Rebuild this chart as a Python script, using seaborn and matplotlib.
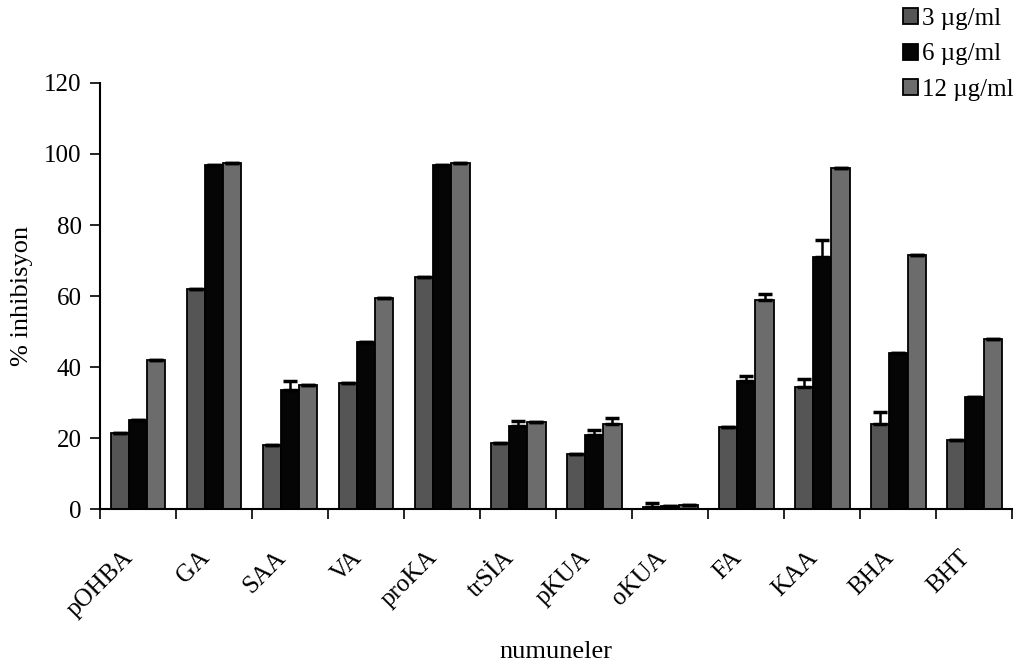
import numpy as np
import pandas as pd
import matplotlib
matplotlib.use("Agg")
import matplotlib.pyplot as plt
import seaborn as sns

# Veriler
numuneler = ["pOHBA", "GA", "SAA", "VA", "proKA", "trSİA",
             "pKUA", "oKUA", "FA", "KAA", "BHA", "BHT"]
dozlar = ["3 µg/ml", "6 µg/ml", "12 µg/ml"]

inh_3 = [21.5, 62, 18, 35.5, 65.5, 18.5, 15.5, 0.5, 23, 34.5, 24, 19.5]
inh_6 = [25, 97, 33.5, 47, 97, 23.5, 21, 0.8, 36, 71, 44, 31.5]
inh_12 = [42, 97.5, 35, 59.5, 97.5, 24.5, 24, 1.2, 59, 96, 71.5, 48]

hata_3 = [0, 0, 0, 0, 0, 0, 0, 1.2, 0, 2.0, 3.3, 0]
hata_6 = [0, 0, 2.7, 0, 0, 1.2, 1.2, 0, 1.5, 4.8, 0, 0]
hata_12 = [0, 0, 0, 0, 0, 0, 1.7, 0, 1.5, 0, 0, 0]

df = pd.DataFrame({
    "numune": numuneler * 3,
    "doz": [d for d in dozlar for _ in numuneler],
    "inhibisyon": inh_3 + inh_6 + inh_12,
})
hatalar = [hata_3, hata_6, hata_12]

sns.set_style("white")
plt.rcParams["font.family"] = ["Liberation Serif", "DejaVu Serif"]
plt.rcParams["text.color"] = "black"
plt.rcParams["axes.labelcolor"] = "black"
plt.rcParams["xtick.color"] = "black"
plt.rcParams["ytick.color"] = "black"

fig, ax = plt.subplots(figsize=(10.3, 6.69), dpi=100)
fig.subplots_adjust(left=0.097, right=0.983, top=0.876, bottom=0.239)

renkler = ["#555555", "#050505", "#6c6c6c"]
sns.barplot(data=df, x="numune", y="inhibisyon", hue="doz", order=numuneler,
            hue_order=dozlar, palette=renkler, width=0.72, errorbar=None,
            edgecolor="black", linewidth=1.3, saturation=1, ax=ax)

# Hata çubukları (yalnızca üst)
for cont, err in zip(ax.containers, hatalar):
    xs = [b.get_x() + b.get_width() / 2 for b in cont]
    ys = [b.get_height() for b in cont]
    ax.errorbar(xs, ys, yerr=[np.zeros(len(err)), err], fmt="none",
                ecolor="black", elinewidth=1.8, capsize=5, capthick=2.5)

ax.set_ylim(0, 120)
ax.set_xlim(-0.5, len(numuneler) - 0.5)
ax.set_yticks(range(0, 121, 20))
ax.set_xticks(np.arange(len(numuneler)))
ax.set_xticklabels(numuneler, rotation=45, ha="right", fontsize=18)
ax.tick_params(axis="x", length=0, pad=27)
ax.tick_params(axis="y", labelsize=18, length=7, width=1.2, direction="out",
               left=True, pad=6)
ax.set_xticks(np.arange(len(numuneler) + 1) - 0.5, minor=True)
ax.tick_params(axis="x", which="minor", length=7, width=1.2, direction="out",
               bottom=True)

sns.despine(ax=ax)
for s in ["left", "bottom"]:
    ax.spines[s].set_color("black")
    ax.spines[s].set_linewidth(1.5)

ax.set_xlabel("numuneler", fontsize=19, labelpad=14)
ax.set_ylabel("% inhibisyon", fontsize=19, labelpad=8)

leg = ax.legend(loc="upper right", bbox_to_anchor=(1.012, 1.2), frameon=False,
                fontsize=18, handlelength=0.6, handleheight=0.6,
                handletextpad=0.15, labelspacing=0.55, borderaxespad=0)

fig.savefig("out.png", dpi=100)
